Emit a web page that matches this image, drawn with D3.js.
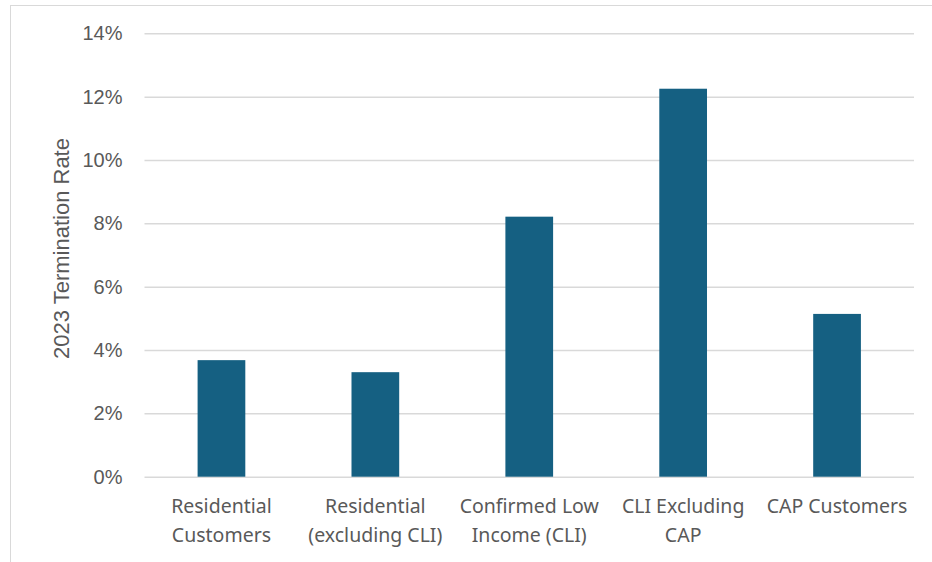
<!DOCTYPE html>
<html>
<head>
<meta charset="utf-8">
<script src="https://cdn.jsdelivr.net/npm/d3@7"></script>
<style>
  body { margin: 0; background: #fff; }
  svg { display: block; }
</style>
</head>
<body>
<svg id="canvas"></svg>
<script>
// chart data
const categories = [
    ['Residential', 'Customers'],
    ['Residential', '(excluding CLI)'],
    ['Confirmed Low', 'Income (CLI)'],
    ['CLI Excluding', 'CAP'],
    ['CAP Customers']
]
const rates = [0.0368, 0.0330, 0.0821, 0.1225, 0.0514]
const yTicks = [0, 0.02, 0.04, 0.06, 0.08, 0.10, 0.12, 0.14]
const yTitle = '2023 Termination Rate'

const width = 932
const height = 562
const plotLeft = 144.5
const plotRight = 914
const plotTop = 33.3
const plotBottom = 476.7

const svg = d3.select('#canvas')
    .attr('width', width)
    .attr('height', height)

// chart frame
svg.append('rect')
    .attr('x', 10.5)
    .attr('y', 5.5)
    .attr('width', width)
    .attr('height', height)
    .attr('fill', 'none')
    .attr('stroke', '#d9d9d9')

const xScale = d3.scaleBand()
    .domain(d3.range(categories.length))
    .range([plotLeft, plotRight])
    .paddingInner(0.69)
    .paddingOuter(0.345)

const yScale = d3.scaleLinear()
    .domain([0, 0.14])
    .range([plotBottom, plotTop])

// gridlines + tick labels
const yAxis = d3.axisLeft(yScale)
    .tickValues(yTicks)
    .tickFormat(d3.format('.0%'))
    .tickSize(-(plotRight - plotLeft))
    .tickPadding(22)

const gy = svg.append('g')
    .attr('transform', 'translate(' + plotLeft + ',0)')
    .call(yAxis)

gy.select('.domain').remove()
gy.selectAll('.tick line')
    .attr('stroke', '#d9d9d9')
    .attr('stroke-width', 1.5)
gy.selectAll('.tick text')
    .attr('fill', '#595959')
    .style('font-family', '"Liberation Sans", Arial, sans-serif')
    .style('font-size', '20px')

// bars
svg.selectAll('rect.bar')
    .data(rates)
    .enter()
    .append('rect')
    .attr('class', 'bar')
    .attr('x', (d, i) => xScale(i))
    .attr('y', d => yScale(d))
    .attr('width', xScale.bandwidth())
    .attr('height', d => plotBottom - yScale(d))
    .attr('fill', '#156082')

// category labels
const labels = svg.selectAll('text.cat')
    .data(categories)
    .enter()
    .append('text')
    .attr('class', 'cat')
    .attr('x', (d, i) => xScale(i) + xScale.bandwidth() / 2)
    .attr('y', 513)
    .attr('text-anchor', 'middle')
    .attr('fill', '#595959')
    .style('font-family', '"Noto Sans", sans-serif')
    .style('font-size', '19.5px')

labels.selectAll('tspan')
    .data(d => d)
    .enter()
    .append('tspan')
    .attr('x', function () { return d3.select(this.parentNode).attr('x') })
    .attr('dy', (d, i) => i === 0 ? 0 : 28.7)
    .text(d => d)

// y axis title
svg.append('text')
    .attr('transform', 'translate(68.5,248.5) rotate(-90)')
    .attr('text-anchor', 'middle')
    .attr('fill', '#595959')
    .style('font-family', '"Liberation Sans", Arial, sans-serif')
    .style('font-size', '22px')
    .text(yTitle)
</script>
</body>
</html>
